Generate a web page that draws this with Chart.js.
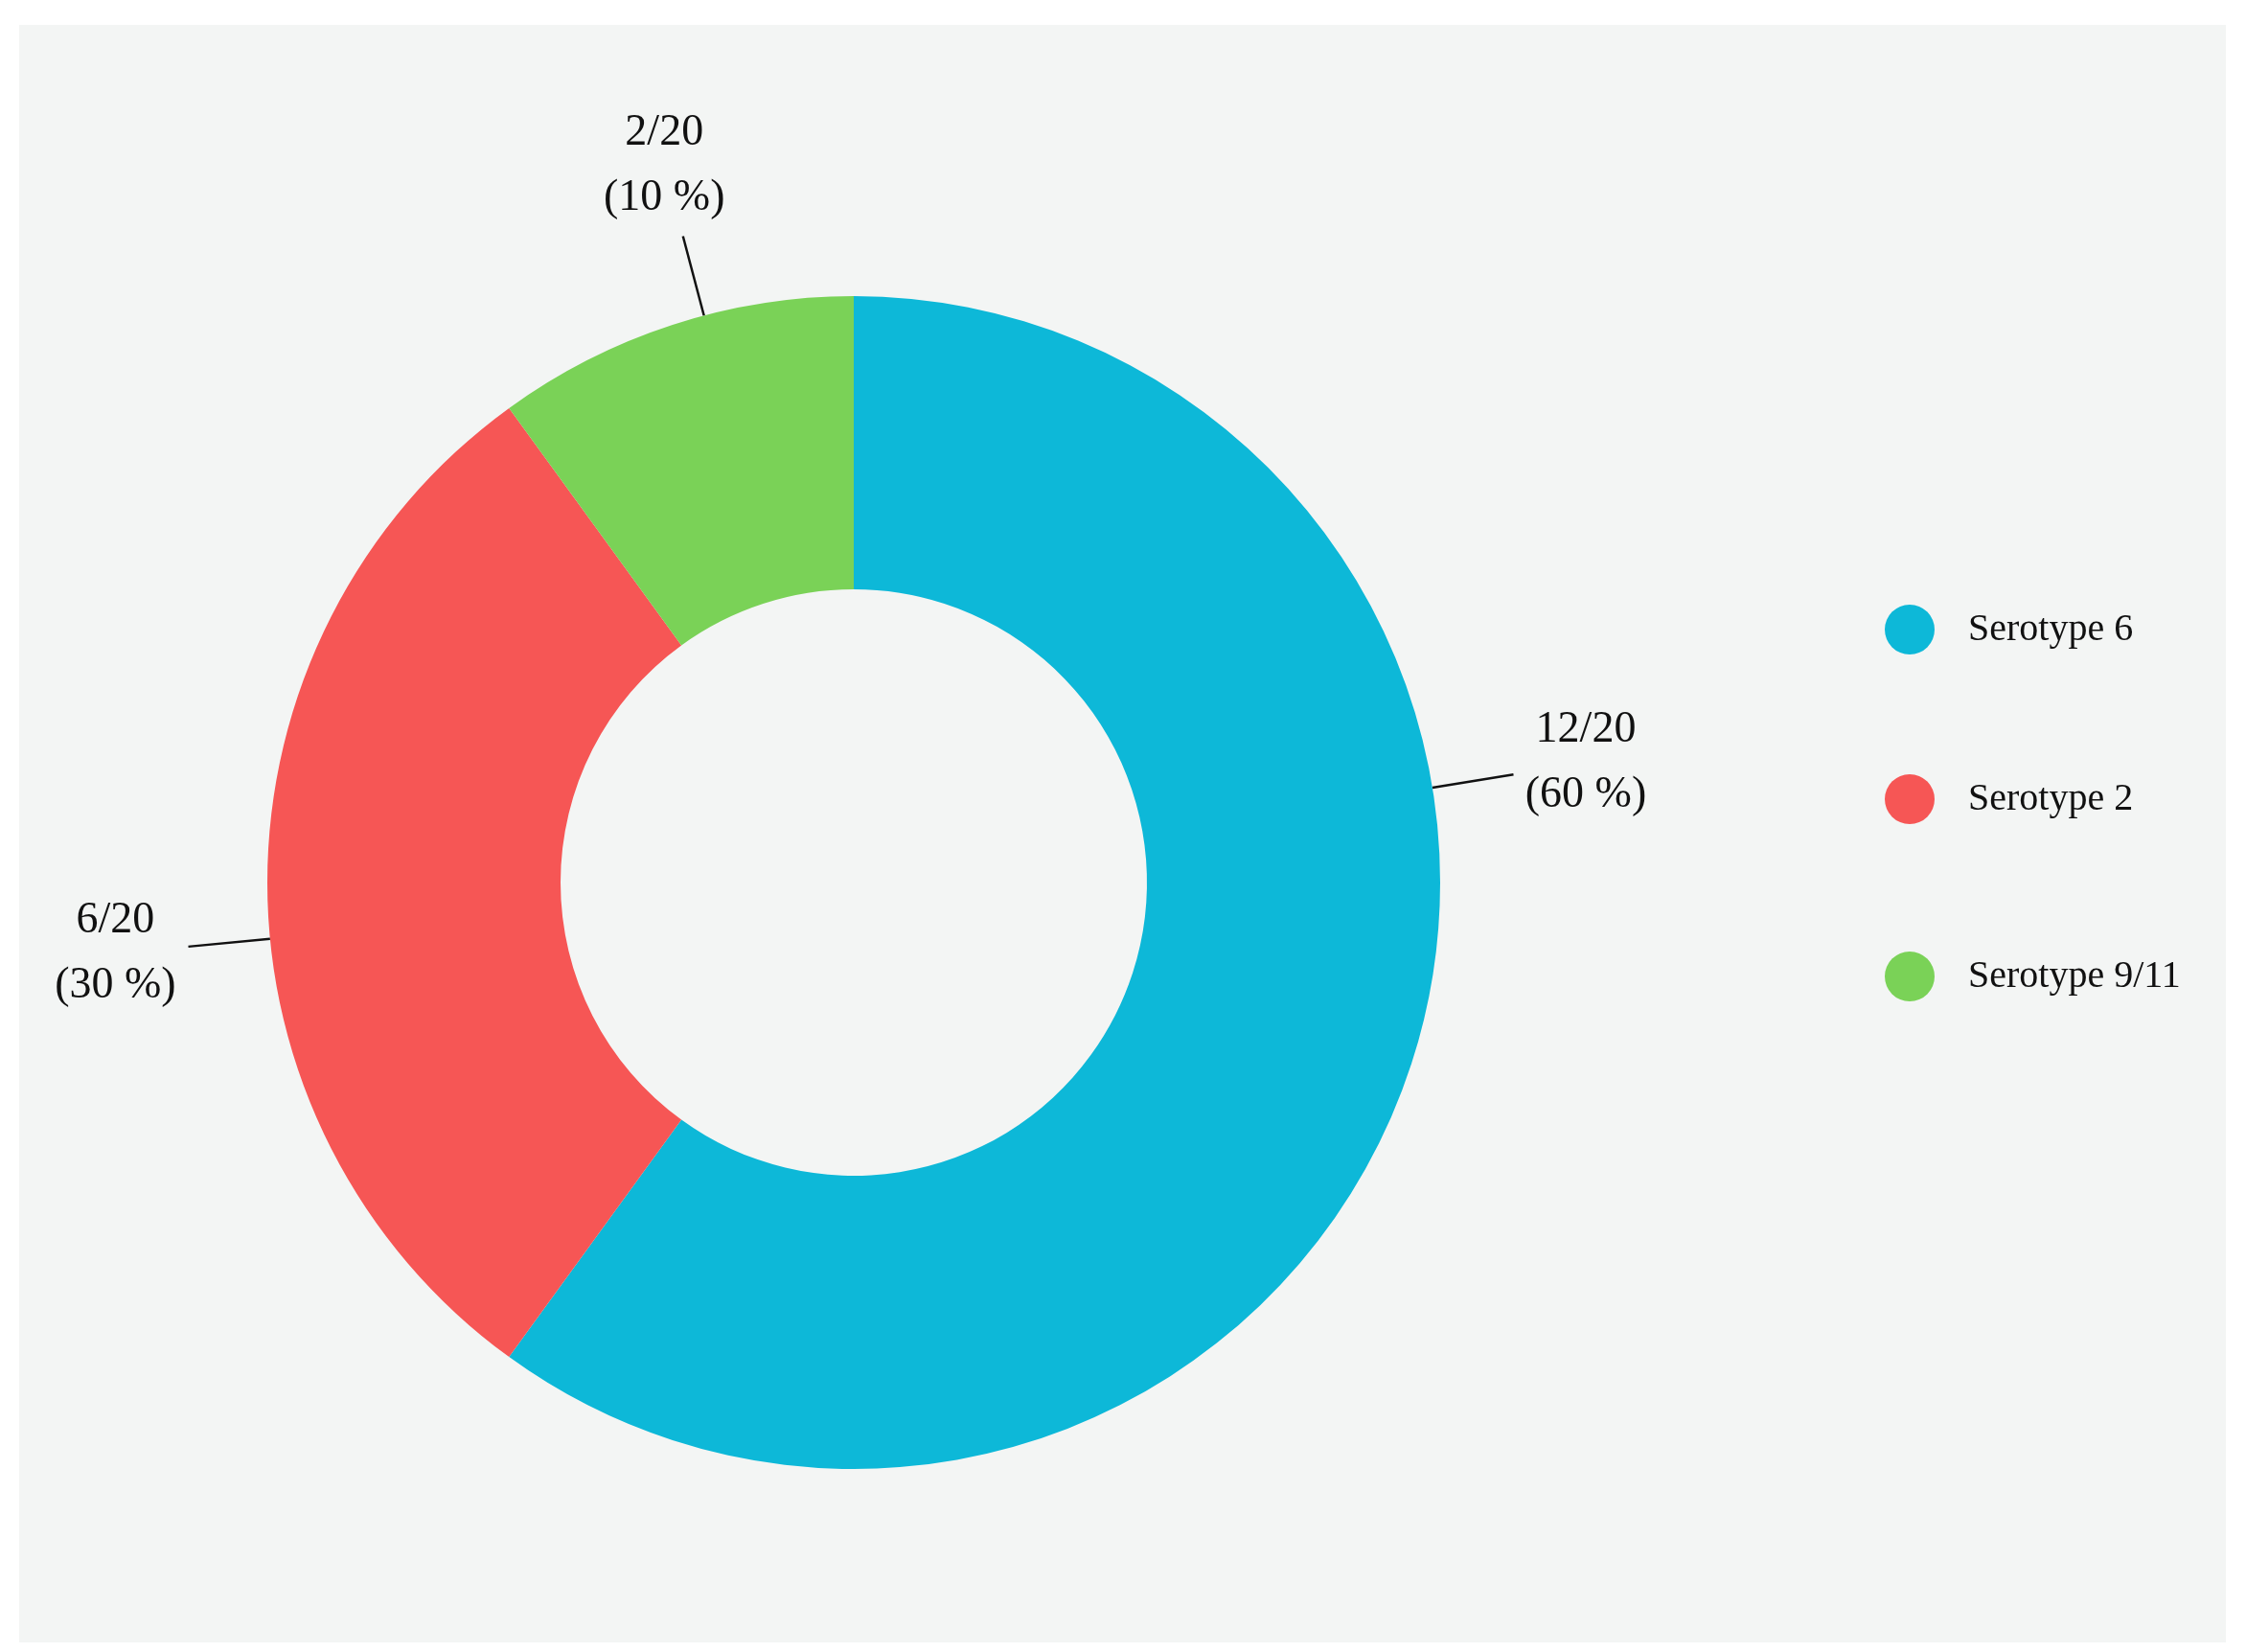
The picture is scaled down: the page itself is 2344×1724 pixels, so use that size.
<!DOCTYPE html>
<html><head><meta charset="utf-8">
<script src="https://cdn.jsdelivr.net/npm/chart.js@4"></script>
<style>html,body{margin:0;padding:0;background:#fff}canvas{display:block}</style>
</head><body>
<canvas id="c" width="2344" height="1724" style="width:2344px;height:1724px"></canvas>
<script>
const categories = ['Serotype 6', 'Serotype 2', 'Serotype 9/11'];
const counts = [12, 6, 2];
const total = 20;
const colors = ['#0db8d8', '#f65655', '#7ad257'];
const leaderAngles = [-9.3, 174.5, -104.8];

const deco = {
  id: 'deco',
  beforeDraw(chart) {
    const ctx = chart.ctx;
    ctx.save();
    ctx.fillStyle = '#fff';
    ctx.fillRect(0, 0, 2344, 1724);
    ctx.fillStyle = '#f3f5f4';
    ctx.fillRect(20, 26, 2303, 1688);
    ctx.restore();
  },
  afterDraw(chart) {
    const ctx = chart.ctx;
    const arcs = chart.getDatasetMeta(0).data;
    ctx.save();
    ctx.font = '46px "Liberation Serif", serif';
    ctx.fillStyle = '#111';
    ctx.strokeStyle = '#111';
    ctx.lineWidth = 2.5;
    ctx.textAlign = 'center';
    ctx.textBaseline = 'middle';
    arcs.forEach((a, i) => {
      const p = a.getProps(['x', 'y', 'outerRadius'], true);
      const t = leaderAngles[i] * Math.PI / 180;
      const R = p.outerRadius;
      ctx.beginPath();
      ctx.moveTo(p.x + Math.cos(t) * R, p.y + Math.sin(t) * R);
      ctx.lineTo(p.x + Math.cos(t) * R * 1.14, p.y + Math.sin(t) * R * 1.14);
      ctx.stroke();
      const cx = p.x + Math.cos(t) * R * 1.265, cy = p.y + Math.sin(t) * R * 1.265;
      ctx.fillText(counts[i] + '/' + total, cx, cy - 34);
      ctx.fillText('(' + Math.round(counts[i] / total * 100) + ' %)', cx, cy + 34);
    });
    // legend
    ctx.font = '40px "Liberation Serif", serif';
    ctx.textAlign = 'left';
    const ly = [657, 834, 1019];
    categories.forEach((c, i) => {
      ctx.fillStyle = colors[i];
      ctx.beginPath();
      ctx.arc(1993, ly[i], 26, 0, Math.PI * 2);
      ctx.fill();
      ctx.fillStyle = '#111';
      ctx.fillText(c, 2054, ly[i]);
    });
    ctx.restore();
  }
};

new Chart(document.getElementById('c'), {
  type: 'doughnut',
  data: { labels: categories, datasets: [{ data: counts, backgroundColor: colors, borderWidth: 0 }] },
  options: {
    responsive: false, animation: false, cutout: '50%',
    layout: { padding: { left: 279, right: 841, top: 309, bottom: 191 } },
    plugins: { legend: { display: false }, tooltip: { enabled: false } }
  },
  plugins: [deco]
});
</script>
</body></html>
